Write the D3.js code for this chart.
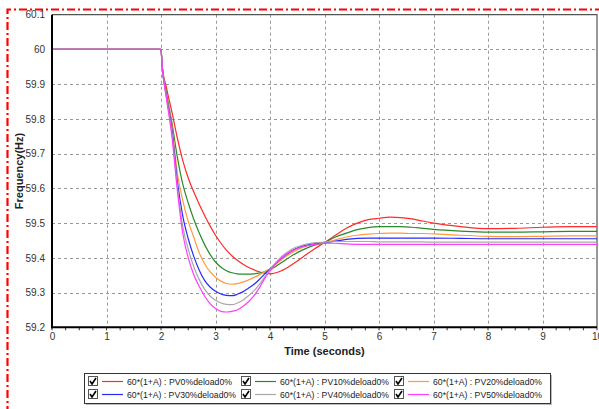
<!DOCTYPE html>
<html><head><meta charset="utf-8">
<script src="https://cdn.jsdelivr.net/npm/d3@7"></script>
<style>body{margin:0;background:#fff;}svg{display:block;font-family:Arial,"Liberation Sans",sans-serif;}</style>
</head><body>
<script>
const times = [0,2,2.02,2.1,2.2,2.3,2.4,2.5,2.6,2.7,2.8,2.9,3.0,3.1,3.2,3.3,3.4,3.5,3.6,3.7,3.8,3.9,4.0,4.2,4.4,4.6,4.8,5.0,5.2,5.4,5.6,5.8,6.0,6.2,6.4,6.6,6.8,7.0,7.5,8,8.5,9,9.5,10];
const pv0  = [60,60,59.955,59.89,59.82,59.745,59.68,59.63,59.59,59.555,59.522,59.492,59.465,59.442,59.422,59.406,59.393,59.382,59.373,59.366,59.36,59.356,59.354,59.362,59.38,59.402,59.424,59.444,59.465,59.485,59.5,59.51,59.514,59.517,59.516,59.512,59.506,59.50,59.49,59.484,59.485,59.488,59.49,59.49];
const pv10 = [60,60,59.955,59.875,59.79,59.69,59.612,59.558,59.512,59.472,59.438,59.41,59.388,59.373,59.363,59.357,59.354,59.353,59.353,59.354,59.356,59.36,59.366,59.385,59.406,59.423,59.436,59.444,59.46,59.471,59.481,59.487,59.49,59.49,59.49,59.488,59.485,59.482,59.477,59.474,59.474,59.475,59.476,59.476];
const pv20 = [60,60,59.955,59.87,59.78,59.645,59.565,59.505,59.46,59.415,59.383,59.36,59.344,59.333,59.326,59.324,59.326,59.33,59.336,59.343,59.351,59.36,59.368,59.393,59.415,59.43,59.439,59.444,59.452,59.46,59.465,59.468,59.47,59.471,59.471,59.47,59.47,59.469,59.465,59.462,59.461,59.462,59.463,59.463];
const pv30 = [60,60,59.955,59.865,59.77,59.62,59.52,59.455,59.405,59.365,59.335,59.316,59.304,59.296,59.292,59.291,59.295,59.302,59.312,59.323,59.337,59.353,59.368,59.397,59.42,59.434,59.44,59.443,59.448,59.453,59.456,59.457,59.457,59.457,59.457,59.457,59.457,59.457,59.456,59.455,59.455,59.455,59.455,59.455];
const pv40 = [60,60,59.955,59.862,59.76,59.605,59.49,59.425,59.375,59.338,59.31,59.29,59.278,59.27,59.266,59.265,59.27,59.278,59.29,59.304,59.322,59.344,59.366,59.402,59.425,59.437,59.443,59.445,59.447,59.447,59.447,59.447,59.446,59.446,59.446,59.446,59.446,59.445,59.445,59.445,59.445,59.445,59.445,59.445];
const pv50 = [60,60,59.955,59.86,59.75,59.595,59.47,59.4,59.352,59.318,59.29,59.268,59.254,59.246,59.244,59.246,59.25,59.26,59.273,59.29,59.312,59.34,59.362,59.398,59.42,59.432,59.438,59.442,59.442,59.44,59.439,59.439,59.439,59.439,59.439,59.439,59.439,59.439,59.439,59.439,59.439,59.439,59.439,59.439];
const seriesNames = ["60*(1+A) : PV0%deload0%","60*(1+A) : PV10%deload0%","60*(1+A) : PV20%deload0%","60*(1+A) : PV30%deload0%","60*(1+A) : PV40%deload0%","60*(1+A) : PV50%deload0%"];
const seriesValues = [pv0,pv10,pv20,pv30,pv40,pv50];
const colors = ["#ff2a2a","#2a8a2a","#ff9a3a","#2a2aff","#a8a8a8","#ff3cff"];
const xTicks = [0,1,2,3,4,5,6,7,8,9,10];
const yTicks = [59.2,59.3,59.4,59.5,59.6,59.7,59.8,59.9,60,60.1];

const W=599,H=409;
const svg=d3.select("body").append("svg").attr("width",W).attr("height",H);
const L=52,R=597,T=14.7,B=327.3;
const x=d3.scaleLinear().domain([0,10]).range([L,R]);
const y=d3.scaleLinear().domain([59.2,60.1]).range([B,T]);

// red dash-dot frame
svg.append("path").attr("d",`M7.5,${H+5} V9.5 H${W+5}`).attr("fill","none")
  .attr("stroke","#ff0000").attr("stroke-width",2.2).attr("stroke-dasharray","8,3,2,3");

// grid
const g=svg.append("g");
g.selectAll(".gx").data(xTicks.slice(1,-1)).join("line")
  .attr("x1",d=>Math.round(x(d))+0.5).attr("x2",d=>Math.round(x(d))+0.5).attr("y1",T).attr("y2",B)
  .attr("stroke","#999").attr("stroke-dasharray","3,3");
g.selectAll(".gy").data(yTicks.slice(1,-1)).join("line")
  .attr("y1",d=>Math.round(y(d))+0.5).attr("y2",d=>Math.round(y(d))+0.5).attr("x1",L).attr("x2",R)
  .attr("stroke","#999").attr("stroke-dasharray","3,3");

// top/right border
svg.append("path").attr("d",`M${L},${T} H${R} V${B}`).attr("fill","none").attr("stroke","#555").attr("stroke-width",1.2);

// series
const line=d3.line().x((d,i)=>x(times[i])).y(d=>y(d)).curve(d3.curveMonotoneX);
seriesValues.forEach((vals,k)=>{
  svg.append("path").datum(vals).attr("d",line).attr("fill","none")
    .attr("stroke",colors[k]).attr("stroke-width",1.2);
});

// axes
const xAxis=d3.axisBottom(x).tickValues(xTicks).tickSize(0).tickPadding(6).tickFormat(d3.format("d"));
const xa=svg.append("g").attr("transform",`translate(0,${B})`).call(xAxis);
xa.select(".domain").remove();
xa.selectAll("text").attr("font-size",10).attr("fill","#333").attr("font-family","Arial,'Liberation Sans',sans-serif");
const minor=d3.range(0,10.01,0.25);
svg.selectAll(".mt").data(minor).join("line").attr("x1",d=>x(d)).attr("x2",d=>x(d))
  .attr("y1",B).attr("y2",B+3).attr("stroke","#333");
const yAxis=d3.axisLeft(y).tickValues(yTicks).tickSize(0).tickPadding(7).tickFormat(d=>d3.format("")(+d.toFixed(1)));
const ya=svg.append("g").attr("transform",`translate(${L},0)`).call(yAxis);
ya.select(".domain").remove();
ya.selectAll("text").attr("font-size",10).attr("fill","#333").attr("font-family","Arial,'Liberation Sans',sans-serif");
svg.append("line").attr("x1",L).attr("x2",L).attr("y1",T).attr("y2",B+1).attr("stroke","#000").attr("stroke-width",2);
svg.append("line").attr("x1",L-1).attr("x2",R).attr("y1",B).attr("y2",B).attr("stroke","#000").attr("stroke-width",2);

// axis labels
svg.append("text").attr("x",(L+R)/2).attr("y",355).attr("text-anchor","middle")
  .attr("font-size",11).attr("font-weight","bold").attr("fill","#222").text("Time (seconds)");
svg.append("text").attr("transform",`translate(23,${(T+B)/2}) rotate(-90)`).attr("text-anchor","middle")
  .attr("font-size",11).attr("font-weight","bold").attr("fill","#222").text("Frequency(Hz)");

// legend
const lx=84,ly=373,lw=466,lh=30;
svg.append("rect").attr("x",lx+2).attr("y",ly+2).attr("width",lw).attr("height",lh).attr("fill","#bbb");
svg.append("rect").attr("x",lx+0.5).attr("y",ly+0.5).attr("width",lw).attr("height",lh).attr("fill","#fff").attr("stroke","#333");
const colX=[88,241,394];
seriesNames.forEach((name,k)=>{
  const cx=colX[k%3], cy=k<3?381:394;
  const lg=svg.append("g").attr("transform",`translate(${cx},${cy})`);
  lg.append("rect").attr("x",0.5).attr("y",-4.5).attr("width",9).attr("height",9).attr("fill","#fff").attr("stroke","#555");
  lg.append("path").attr("d","M2,0 L4,3 L8,-3").attr("fill","none").attr("stroke","#000").attr("stroke-width",1.6);
  lg.append("line").attr("x1",14).attr("x2",35).attr("y1",0.5).attr("y2",0.5).attr("stroke",colors[k]).attr("stroke-width",1.2);
  lg.append("text").attr("x",39).attr("y",3.5).attr("font-size",9).attr("fill","#222")
    .attr("textLength",k===0?105:109).attr("lengthAdjust","spacingAndGlyphs").text(name);
});
</script>
</body></html>
